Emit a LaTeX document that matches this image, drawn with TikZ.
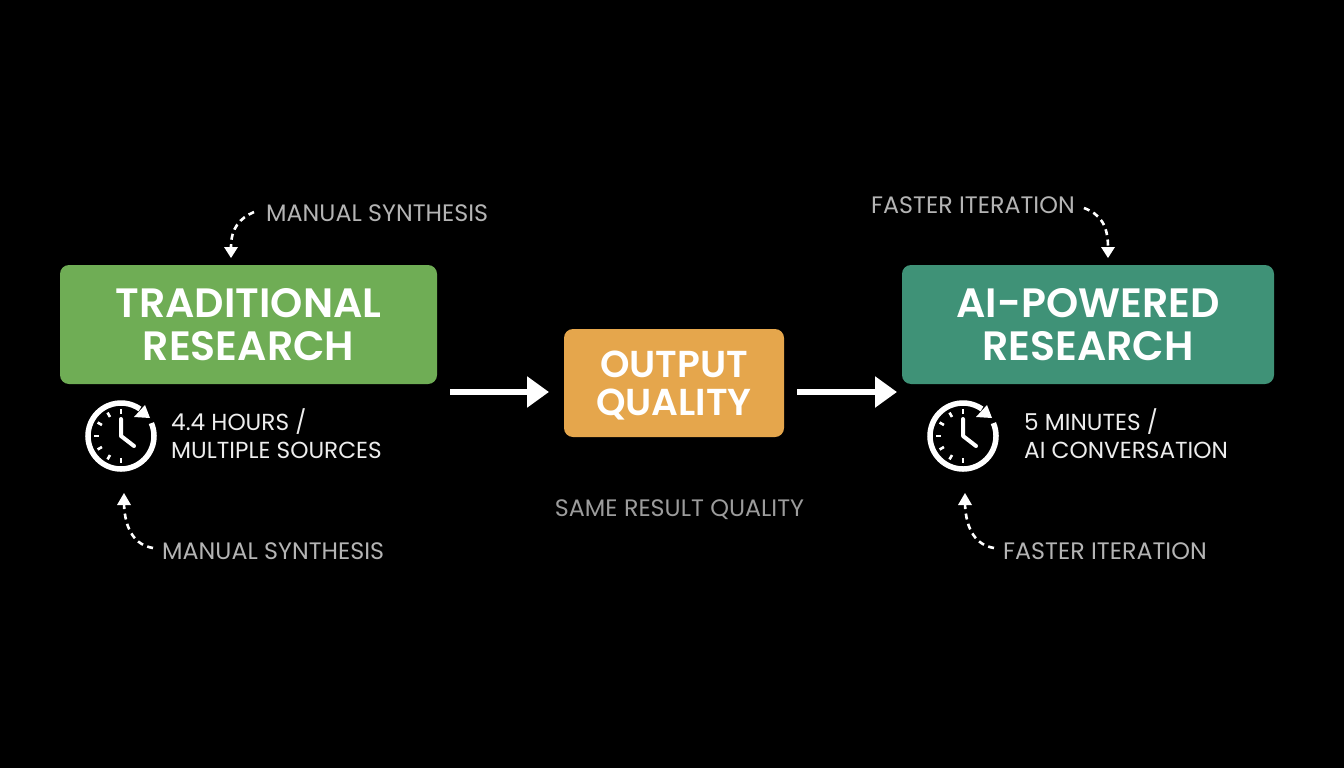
\documentclass[tikz,border=0pt]{standalone}
\usepackage{fontspec}
\setmainfont{Poppins}
\newfontface\titleface{Poppins SemiBold}
\usetikzlibrary{arrows.meta}
\definecolor{greenbox}{HTML}{6FAD55}
\definecolor{orangebox}{HTML}{E5A64C}
\definecolor{tealbox}{HTML}{3F9277}
\definecolor{greylabel}{HTML}{B4B4B4}
\definecolor{dimlabel}{HTML}{9C9C9C}
\definecolor{whitelabel}{HTML}{EDEDED}
\tikzset{
  x=1pt,y=-1pt,
  mainbox/.style={rounded corners=9pt,draw=none,inner sep=0pt,align=center,text=white,font=\fontsize{41}{43}\selectfont\titleface},
  smallbox/.style={mainbox,font=\fontsize{37.5}{38.5}\selectfont\titleface},
  note/.style={text=greylabel,font=\fontsize{23.8}{26}\selectfont,inner sep=0pt,anchor=west},
  info/.style={text=whitelabel,font=\fontsize{23.2}{28}\selectfont,inner sep=0pt,anchor=west,align=left},
  flow/.style={draw=white,line width=5.5pt,-{Triangle[length=22pt,width=30pt]}},
  curved/.style={draw=white,line width=2.6pt,dash pattern=on 6pt off 4.5pt},
  headtip/.style={fill=white,draw=none},
  clockring/.style={draw=white,line width=5.5pt},
  clocktick/.style={draw=white,line width=2.6pt},
  clockhand/.style={draw=white,line width=4pt,line cap=round,line join=round},
}
\newcommand{\clockicon}[1]{%
  \begin{scope}[shift={(#1)}]
    \draw[clockring] (-23:33) arc[start angle=-23,end angle=305,radius=33];
    \fill[white] (24,-31) -- (29,-18) -- (13,-19) -- cycle;
    \foreach \a in {0,-30,-60,-90,-120,-150,180}
      \draw[clocktick] ({sin(\a)*22},{-cos(\a)*22}) -- ({sin(\a)*27},{-cos(\a)*27});
    \draw[clockhand] (0,-17) -- (0,0) -- (13,10);
  \end{scope}}
\begin{document}
\begin{tikzpicture}
\useasboundingbox[fill=black] (0,0) rectangle (1344,768);
% boxes
\node[mainbox,fill=greenbox,minimum width=377pt,minimum height=119pt] (trad) at (248.5,324.5) {TRADITIONAL\\RESEARCH};
\node[smallbox,fill=orangebox,minimum width=220pt,minimum height=108pt] (out) at (674,383) {\rule{0pt}{32pt}OUTPUT\\QUALITY};
\node[mainbox,fill=tealbox,minimum width=372pt,minimum height=119pt] (ai) at (1088,324.5) {AI-POWERED\\RESEARCH};
% main arrows
\coordinate (a1s) at (450,392);
\coordinate (a1e) at (549,392);
\coordinate (a2s) at (797,392);
\coordinate (a2e) at (897,392);
\draw[flow] (a1s) -- (a1e);
\draw[flow] (a2s) -- (a2e);
% clocks
\clockicon{121,436}
\clockicon{963,436}
% info
\node[info] (i1) at (171,434) {4.4 HOURS /\\MULTIPLE SOURCES};
\node[info] (i2) at (1024,434) {5 MINUTES /\\AI CONVERSATION};
% notes
\node[note] (n1) at (266,213) {MANUAL SYNTHESIS};
\node[note] (n2) at (162,551) {MANUAL SYNTHESIS};
\node[note] (n3) at (871,205) {FASTER ITERATION};
\node[note] (n4) at (1003,551) {FASTER ITERATION};
\node[note,anchor=center,text=dimlabel] (n5) at (679.5,510) {SAME RESULT QUALITY};
% dashed curved connectors
\coordinate (t1) at (231,247);
\coordinate (t2) at (124,504);
\coordinate (t3) at (1108,247);
\coordinate (t4) at (965,504);
\draw[curved] (n1.west) ++(-12,-1) .. controls (240,218) and (231,228) .. (t1);
\fill[headtip] (224,247) -- (238,247) -- (231,258) -- cycle;
\draw[curved] (n2.west) ++(-9,-3) .. controls (135,545) and (125,530) .. (t2);
\fill[headtip] (117,505) -- (131,505) -- (124,493) -- cycle;
\draw[curved] (n3.east) ++(9,3) .. controls (1100,214) and (1108,225) .. (t3);
\fill[headtip] (1101,247) -- (1115,247) -- (1108,258) -- cycle;
\draw[curved] (n4.west) ++(-9,-3) .. controls (976,545) and (966,530) .. (t4);
\fill[headtip] (958,505) -- (972,505) -- (965,493) -- cycle;
\end{tikzpicture}
\end{document}
